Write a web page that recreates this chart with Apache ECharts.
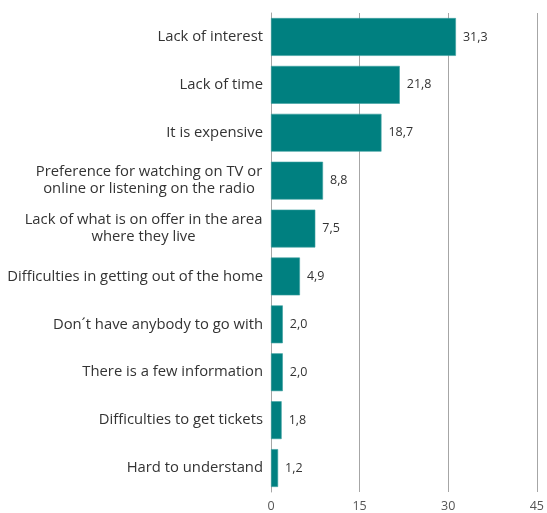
<!DOCTYPE html>
<html>
<head>
<meta charset="utf-8">
<script src="https://cdn.jsdelivr.net/npm/echarts@6/dist/echarts.min.js"></script>
<style>
  html, body { margin: 0; padding: 0; background: #fff; }
  #chart { width: 547px; height: 513px; }
</style>
</head>
<body>
<div id="chart"></div>
<script>
// Reasons for not attending, share of respondents (%)
const categories = [
  'Lack of interest',
  'Lack of time',
  'It is expensive',
  'Preference for watching on TV or\nonline or listening on the radio',
  'Lack of what is on offer in the area\nwhere they live',
  'Difficulties in getting out of the home',
  'Don\u00b4t have anybody to go with',
  'There is a few information',
  'Difficulties to get tickets',
  'Hard to understand'
];
const values = [31.3, 21.8, 18.7, 8.8, 7.5, 4.9, 2.0, 2.0, 1.8, 1.2];
const xTicks = [0, 15, 30, 45];

const FONT = '"Open Sans", Lato, sans-serif';
const LABEL_SIZE = 14.8;

// Two-line labels are centred within their own block, and the block is
// right-aligned against the axis; give each one a rich style of its width.
const ctx = document.createElement('canvas').getContext('2d');
ctx.font = LABEL_SIZE + 'px ' + FONT;
const rich = {};
categories.forEach((c, i) => {
  const lines = c.split('\n');
  if (lines.length > 1) {
    const w = Math.max(...lines.map(l => ctx.measureText(l).width));
    rich['c' + i] = { width: Math.ceil(w) + 1, align: 'center', fontSize: LABEL_SIZE, lineHeight: 17, color: '#333' };
  }
});

const chart = echarts.init(document.getElementById('chart'));
chart.setOption({
  animation: false,
  textStyle: { fontFamily: FONT },
  grid: { left: 271, right: 8, top: 13, bottom: 20, containLabel: false },
  xAxis: {
    type: 'value',
    min: xTicks[0],
    max: xTicks[xTicks.length - 1],
    interval: xTicks[1] - xTicks[0],
    axisLine: { show: false },
    axisTick: { show: false },
    splitLine: { show: true, lineStyle: { color: '#a6a6a6', width: 1 } },
    axisLabel: { color: '#555', fontSize: 12.5, margin: 8 }
  },
  yAxis: {
    type: 'category',
    inverse: true,
    data: categories,
    axisLine: { show: true, lineStyle: { color: '#a6a6a6', width: 1 } },
    axisTick: { show: false },
    axisLabel: {
      color: '#333',
      fontSize: LABEL_SIZE,
      margin: 8,
      lineHeight: 17,
      align: 'right',
      rich: rich,
      formatter: (value, idx) => {
        const lines = value.split('\n');
        if (lines.length === 1) return value;
        return lines.map(l => '{c' + idx + '|' + l + '}').join('\n');
      }
    }
  },
  series: [{
    type: 'bar',
    data: values,
    barCategoryGap: '21%',
    itemStyle: { color: '#008080', borderColor: '#3a9f9f', borderWidth: 0.6 },
    label: {
      show: true,
      position: 'right',
      distance: 7,
      color: '#333',
      fontSize: 12.5,
      formatter: p => p.value.toFixed(1).replace('.', ',')
    }
  }]
});
</script>
</body>
</html>
